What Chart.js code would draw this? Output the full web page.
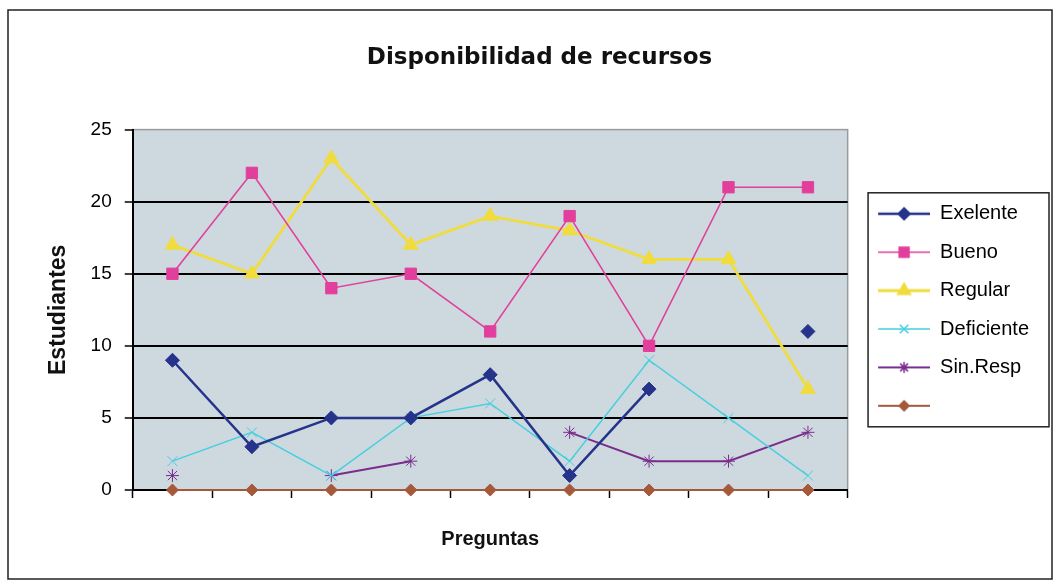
<!DOCTYPE html>
<html>
<head>
<meta charset="utf-8">
<title>Disponibilidad de recursos</title>
<script src="https://cdn.jsdelivr.net/npm/chart.js@4.4.1/dist/chart.umd.min.js"></script>
<style>
  html, body { margin: 0; padding: 0; background: #fff; }
  #wrap { width: 1055px; height: 583px; }
</style>
</head>
<body>
<div id="wrap"><canvas id="chart"></canvas></div>
<script>
// datos
const preguntas = ['1', '2', '3', '4', '5', '6', '7', '8', '9'];
const exelente = [9, 3, 5, 5, 8, 1, 7, null, 11];
const bueno = [15, 22, 14, 15, 11, 19, 10, 21, 21];
const regular = [17, 15, 23, 17, 19, 18, 16, 16, 7];
const deficiente = [2, 4, 1, 5, 6, 2, 9, 5, 1];
const sinResp = [1, null, 1, 2, null, 4, 2, 2, 4];
const sinNombre = [0, 0, 0, 0, 0, 0, 0, 0, 0];
const yTicks = [0, 5, 10, 15, 20, 25];

const series = [
    { label: 'Exelente', data: exelente, color: '#25338a', width: 2.5, point: 'rectRot', radius: 7 },
    { label: 'Bueno', data: bueno, color: '#e23f9c', width: 1.6, point: 'rect', radius: 8 },
    { label: 'Regular', data: regular, color: '#f1dc3e', width: 2.8, point: 'triangle', radius: 8.5 },
    { label: 'Deficiente', data: deficiente, color: '#45cfe0', width: 1.4, point: 'crossRot', radius: 7 },
    { label: 'Sin.Resp', data: sinResp, color: '#7a2d8c', width: 2, point: 'star', radius: 6.5 },
    { label: '', data: sinNombre, color: '#a6593a', width: 2, point: 'rectRot', radius: 6 }
];

Chart.defaults.font.family = '"Liberation Sans", Arial, sans-serif';
Chart.defaults.color = '#000';

// simbolo de leyenda: linea con marcador, con margen a la izquierda
function legendSymbol(s) {
    const cv = document.createElement('canvas');
    cv.width = 64;
    cv.height = 18;
    const ctx = cv.getContext('2d');
    ctx.strokeStyle = s.color;
    ctx.fillStyle = s.color;
    ctx.lineWidth = s.width;
    ctx.beginPath();
    ctx.moveTo(12, 9);
    ctx.lineTo(64, 9);
    ctx.stroke();
    ctx.lineWidth = 1.5;
    Chart.helpers.drawPoint(ctx, { pointStyle: s.point, radius: s.radius - 1, borderWidth: 1 }, 38, 9);
    return cv;
}
const symbols = series.map(legendSymbol);

const frame = {
    id: 'frame',
    beforeDraw(chart) {
        const { ctx, chartArea: a } = chart;
        ctx.save();
        ctx.fillStyle = '#ffffff';
        ctx.fillRect(0, 0, chart.width, chart.height);
        ctx.fillStyle = '#cdd9de';
        ctx.fillRect(a.left, a.top, a.right - a.left, a.bottom - a.top);
        ctx.strokeStyle = '#9a9a9a';
        ctx.lineWidth = 1.5;
        ctx.strokeRect(a.left, a.top, a.right - a.left, a.bottom - a.top);
        ctx.restore();
    },
    afterDraw(chart) {
        const { ctx, legend } = chart;
        ctx.save();
        ctx.strokeStyle = '#222';
        ctx.lineWidth = 1.5;
        ctx.strokeRect(8, 10, 1044, 569);
        const boxes = legend.legendHitBoxes;
        if (boxes && boxes.length) {
            const first = boxes[0];
            const last = boxes[boxes.length - 1];
            const w = Math.max(...boxes.map(b => b.width));
            ctx.strokeRect(first.left + 2, first.top - 11, w + 18, last.top + last.height + 11 - (first.top - 11));
        }
        ctx.restore();
    }
};

new Chart(document.getElementById('chart'), {
    type: 'line',
    data: {
        labels: preguntas,
        datasets: series.map(s => ({
            label: s.label,
            data: s.data,
            borderColor: s.color,
            backgroundColor: s.color,
            borderWidth: s.width,
            pointStyle: s.point,
            pointRadius: s.radius,
            pointBorderWidth: 1,
            pointBorderColor: s.color,
            pointBackgroundColor: s.color,
            tension: 0,
            spanGaps: false,
            clip: false
        }))
    },
    options: {
        responsive: true,
        maintainAspectRatio: false,
        animation: false,
        layout: { padding: { left: 40, right: 16, top: 9, bottom: 32 } },
        plugins: {
            title: {
                display: true,
                text: 'Disponibilidad de recursos',
                font: { family: '"DejaVu Sans", Verdana, sans-serif', size: 23, weight: 'bold' },
                color: '#111',
                padding: { top: 35, bottom: 58 }
            },
            legend: {
                position: 'right',
                fullSize: false,
                labels: {
                    usePointStyle: true,
                    pointStyleWidth: 64,
                    padding: 18.4,
                    color: '#000',
                    font: { size: 20 },
                    generateLabels: chart => chart.data.datasets.map((d, i) => ({
                        text: d.label,
                        pointStyle: symbols[i],
                        fillStyle: series[i].color,
                        strokeStyle: series[i].color,
                        lineWidth: 0,
                        hidden: false,
                        datasetIndex: i
                    }))
                }
            },
            tooltip: { enabled: false }
        },
        scales: {
            x: {
                offset: true,
                grid: {
                    display: true,
                    offset: true,
                    drawOnChartArea: false,
                    drawTicks: true,
                    tickLength: 8,
                    tickColor: '#000',
                    tickWidth: 1.5
                },
                border: { display: true, color: '#000', width: 2 },
                ticks: { display: false },
                title: {
                    display: true,
                    text: 'Preguntas',
                    font: { size: 20, weight: 'bold' },
                    color: '#111',
                    padding: { top: 29, bottom: 0 }
                }
            },
            y: {
                min: 0,
                max: 25,
                afterBuildTicks: axis => { axis.ticks = yTicks.map(v => ({ value: v })); },
                grid: {
                    color: ctx => ctx.tick && ctx.tick.value === 25 ? 'rgba(0,0,0,0)' : '#000',
                    lineWidth: 2,
                    tickLength: 8,
                    tickColor: '#000',
                    tickWidth: 1.5
                },
                border: { display: true, color: '#000', width: 2 },
                ticks: {
                    padding: 13,
                    font: { size: 19 },
                    color: '#000'
                },
                title: {
                    display: true,
                    text: 'Estudiantes',
                    font: { size: 23, weight: 'bold' },
                    color: '#111',
                    padding: { top: 5, bottom: 5 }
                }
            }
        }
    },
    plugins: [frame]
});
</script>
</body>
</html>
